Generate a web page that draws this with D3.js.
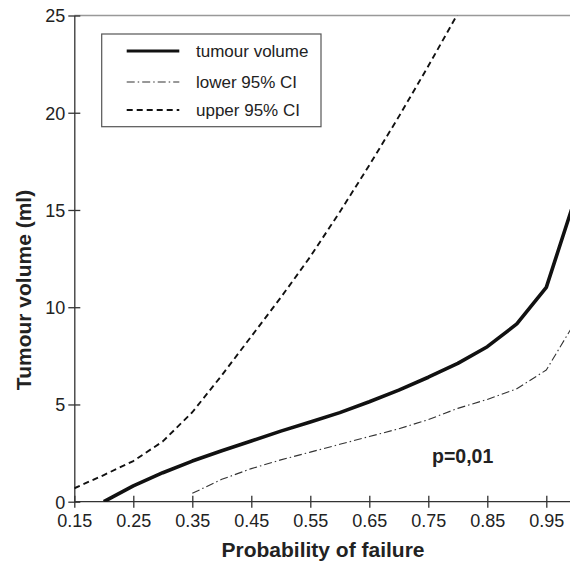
<!DOCTYPE html>
<html><head><meta charset="utf-8">
<script src="https://cdnjs.cloudflare.com/ajax/libs/d3/7.8.5/d3.min.js"></script>
<style>body{margin:0;background:#fff}svg{display:block}</style>
</head><body><div id="chart"></div>
<script>
const xTicks = [0.15,0.25,0.35,0.45,0.55,0.65,0.75,0.85,0.95];
const yTicks = [0,5,10,15,20,25];
const tumourX = [0.2,0.25,0.3,0.35,0.4,0.45,0.5,0.55,0.6,0.65,0.7,0.75,0.8,0.85,0.9,0.95,1.0];
const tumourY = [0,0.81,1.49,2.09,2.62,3.12,3.63,4.1,4.58,5.14,5.74,6.40,7.11,7.97,9.14,11.02,15.7];
const lowerX = [0.35,0.4,0.45,0.5,0.55,0.6,0.65,0.7,0.75,0.8,0.85,0.9,0.95,1.0];
const lowerY = [0.43,1.15,1.7,2.15,2.55,2.95,3.35,3.75,4.22,4.80,5.26,5.81,6.77,9.3];
const upperX = [0.15,0.2,0.25,0.3,0.35,0.4,0.45,0.5,0.55,0.6,0.65,0.7,0.75,0.8,0.85];
const upperY = [0.69,1.37,2.09,3.1,4.6,6.5,8.5,10.5,12.6,14.9,17.3,19.8,22.4,25.1,28.0];
const legendLabels = ["tumour volume","lower 95% CI","upper 95% CI"];
const annotation = "p=0,01";
const xTitle = "Probability of failure";
const yTitle = "Tumour volume (ml)";

const W = 570, H = 564;
const svg = d3.select("#chart").append("svg").attr("width", W).attr("height", H);
const x = d3.scaleLinear().domain([0.15, 1.0]).range([74.3, 575.8]);
const y = d3.scaleLinear().domain([0, 25]).range([501.7, 15.5]);

svg.append("defs").append("clipPath").attr("id","clip")
  .append("rect").attr("x", x(0.15)).attr("y", y(25)).attr("width", x(1.0)-x(0.15)).attr("height", y(0)-y(25));

// top border
svg.append("line").attr("x1", x(0.15)).attr("x2", x(1.0)).attr("y1", y(25)).attr("y2", y(25))
  .attr("stroke","#999").attr("stroke-width",1.3);

const font = "'Liberation Sans', Arial, Helvetica, sans-serif";

// x axis
const xAxis = svg.append("g").attr("transform", `translate(0,${y(0)})`)
  .call(d3.axisBottom(x).tickValues(xTicks).tickFormat(d3.format(".2f")).tickSize(6).tickSizeOuter(0));
xAxis.select(".domain").attr("d", `M${x(0.15)},0H${x(1.0)}`);
xAxis.selectAll(".tick line").attr("y1", -6).attr("y2", 6);
// y axis
const yAxis = svg.append("g").attr("transform", `translate(${x(0.15)},0)`)
  .call(d3.axisLeft(y).tickValues(yTicks).tickFormat(d3.format("d")).tickSize(6).tickSizeOuter(0));
yAxis.selectAll(".tick line").attr("x1", -6).attr("x2", 6);
[xAxis, yAxis].forEach(a => {
  a.selectAll(".domain").attr("stroke","#333").attr("stroke-width",1.3);
  a.selectAll(".tick line").attr("stroke","#333").attr("stroke-width",1.3);
  a.selectAll(".tick text").attr("fill","#222").style("font-family", font).style("font-size","18px");
});
xAxis.selectAll(".tick text").attr("y", 13).attr("dy","0.71em");
yAxis.selectAll(".tick text").attr("x", -9).attr("dy","0.35em");

// titles
svg.append("text").attr("x", 323).attr("y", 557).attr("text-anchor","middle")
  .style("font-family", font).style("font-size","21px").style("font-weight","bold").attr("fill","#222").text(xTitle);
svg.append("text").attr("transform", "translate(31,290) rotate(-90)").attr("text-anchor","middle")
  .style("font-family", font).style("font-size","21px").style("font-weight","bold").attr("fill","#222").text(yTitle);

const line = d3.line().x(d => x(d[0])).y(d => y(d[1]));
const series = [
  {xs: tumourX, ys: tumourY, w: 3.6, dash: null, color: "#111"},
  {xs: lowerX, ys: lowerY, w: 1.1, dash: "8,3,1.5,3", color: "#333"},
  {xs: upperX, ys: upperY, w: 1.9, dash: "6,4", color: "#111"}
];
const g = svg.append("g").attr("clip-path","url(#clip)");
series.forEach(s => {
  g.append("path").datum(d3.zip(s.xs, s.ys)).attr("d", line)
    .attr("fill","none").attr("stroke", s.color).attr("stroke-width", s.w)
    .attr("stroke-dasharray", s.dash).attr("stroke-linejoin","round");
});

// annotation
svg.append("text").attr("x", 432).attr("y", 463)
  .style("font-family", font).style("font-size","19.5px").style("font-weight","bold").attr("fill","#222").text(annotation);

// legend
const lg = svg.append("g");
lg.append("rect").attr("x",101.7).attr("y",34).attr("width",219.3).attr("height",92.7)
  .attr("fill","#fff").attr("stroke","#555").attr("stroke-width",1.2);
const rowsY = [51, 82, 110];
series.forEach((s,i) => {
  lg.append("line").attr("x1",126.7).attr("x2",179.3).attr("y1",rowsY[i]).attr("y2",rowsY[i])
    .attr("stroke", s.color).attr("stroke-width", i===0 ? 3 : s.w).attr("stroke-dasharray", s.dash);
  lg.append("text").attr("x",196).attr("y",rowsY[i]+6)
    .style("font-family", font).style("font-size","17px").attr("fill","#222").text(legendLabels[i]);
});
</script></body></html>
